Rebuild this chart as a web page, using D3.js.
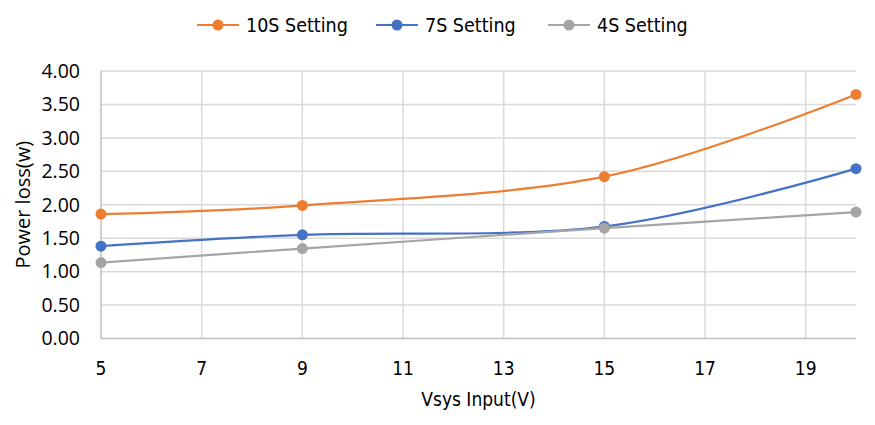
<!DOCTYPE html>
<html><head><meta charset="utf-8">
<script src="https://cdn.jsdelivr.net/npm/d3@7"></script>
<style>body{margin:0;background:#fff}svg{display:block}</style>
</head><body><svg id="c" width="875" height="425"></svg>
<script>
const xValues = [5, 9, 15, 20];
const seriesNames = ["10S Setting", "7S Setting", "4S Setting"];
const s10 = [1.86, 1.99, 2.42, 3.65];
const s7 = [1.38, 1.55, 1.675, 2.54];
const s4 = [1.135, 1.345, 1.65, 1.89];
const colors = ["#ED7D31", "#4472C4", "#A5A5A5"];
const xTicks = [5, 7, 9, 11, 13, 15, 17, 19];
const yTicks = [0, 0.5, 1, 1.5, 2, 2.5, 3, 3.5, 4];

const series = [s10, s7, s4];
const svg = d3.select("#c");
const L = 101, R = 856, T = 71, B = 338.5;
const x = d3.scaleLinear().domain([5, 20]).range([L, R]);
const y = d3.scaleLinear().domain([0, 4]).range([B, T]);
const tickFont = "Open Sans, sans-serif";
const narrow = "'Liberation Sans Narrow', 'DejaVu Sans Condensed', sans-serif";

// gridlines
const g = svg.append("g");
g.selectAll(".hg").data(yTicks.filter(d => d > 0)).enter().append("line")
  .attr("x1", L).attr("x2", R).attr("y1", d => y(d)).attr("y2", d => y(d))
  .attr("stroke", "#d9d9d9").attr("stroke-width", 1.5);
g.selectAll(".vg").data(xTicks.filter(d => d > 5)).enter().append("line")
  .attr("x1", d => x(d)).attr("x2", d => x(d)).attr("y1", T).attr("y2", B)
  .attr("stroke", "#d9d9d9").attr("stroke-width", 1.5);
// axes lines
svg.append("line").attr("x1", L).attr("x2", L).attr("y1", T).attr("y2", B).attr("stroke", "#bfbfbf").attr("stroke-width", 1.5);
svg.append("line").attr("x1", L).attr("x2", R).attr("y1", B).attr("y2", B).attr("stroke", "#bfbfbf").attr("stroke-width", 1.5);

// y tick labels
svg.selectAll(".yt").data(yTicks).enter().append("text")
  .attr("x", 80).attr("y", d => y(d)).attr("dy", "0.35em").attr("text-anchor", "end")
  .attr("font-family", tickFont).attr("font-size", 19.5).attr("fill", "#000")
  .text(d3.format(".2f"));
// x tick labels
svg.selectAll(".xt").data(xTicks).enter().append("text")
  .attr("x", d => x(d)).attr("y", 368).attr("dy", "0.35em").attr("text-anchor", "middle")
  .attr("font-family", narrow).attr("font-size", 19).attr("fill", "#000")
  .text(d => d);
// titles
svg.append("text").attr("x", (L + R) / 2).attr("y", 406).attr("text-anchor", "middle")
  .attr("font-family", narrow).attr("font-size", 19).text("Vsys Input(V)");
svg.append("text").attr("transform", `translate(23,${(T + B) / 2}) rotate(-90)`).attr("text-anchor", "middle")
  .attr("dy", "0.35em").attr("font-family", tickFont).attr("font-size", 20).text("Power loss(w)");

// lines
const line = d3.line().x((d, i) => x(xValues[i])).y(d => y(d)).curve(d3.curveCardinal.tension(0));
series.forEach((s, k) => {
  svg.append("path").attr("d", line(s)).attr("fill", "none").attr("stroke", colors[k]).attr("stroke-width", 2.2);
});
series.forEach((s, k) => {
  svg.selectAll(".p" + k).data(s).enter().append("circle")
    .attr("cx", (d, i) => x(xValues[i])).attr("cy", d => y(d)).attr("r", 5.5).attr("fill", colors[k]);
});

// legend
const legX = [197, 376, 548];
seriesNames.forEach((n, k) => {
  const lg = svg.append("g").attr("transform", `translate(${legX[k]},25)`);
  lg.append("line").attr("x1", 0).attr("x2", 42).attr("stroke", colors[k]).attr("stroke-width", 2.2);
  lg.append("circle").attr("cx", 21).attr("r", 5.5).attr("fill", colors[k]);
  lg.append("text").attr("x", 49).attr("dy", "0.35em").attr("font-family", narrow).attr("font-size", 19.5).text(n);
});
</script></body></html>
